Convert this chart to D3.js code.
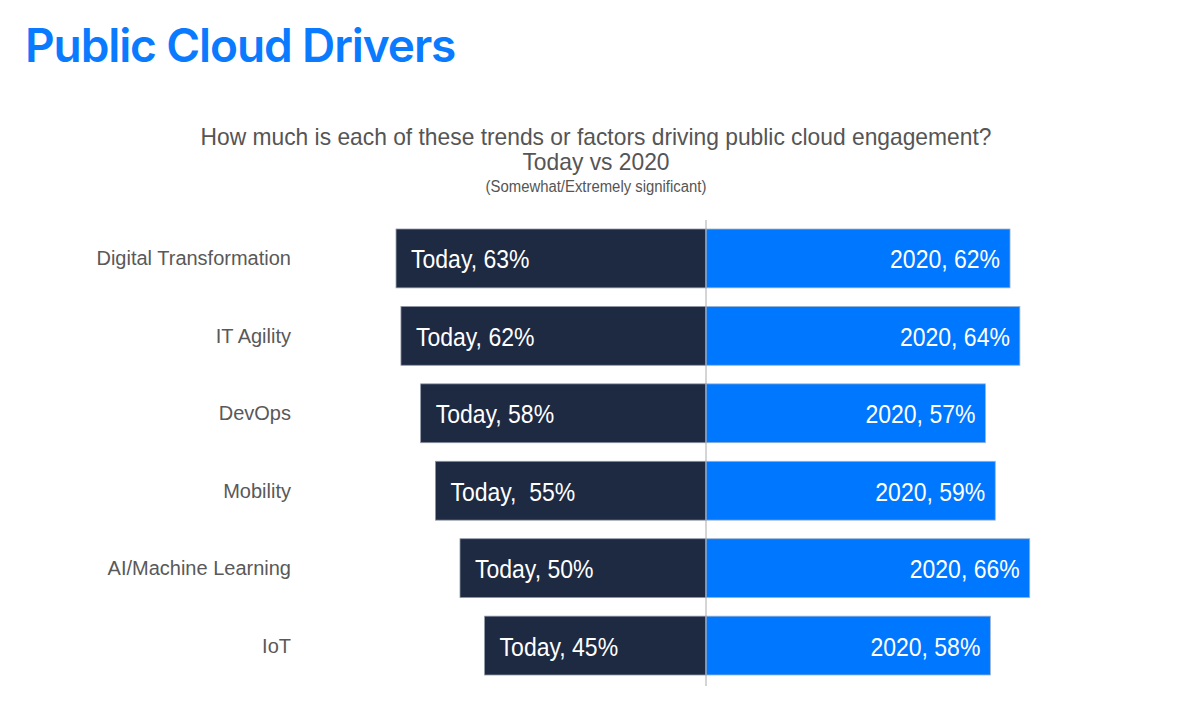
<!DOCTYPE html>
<html>
<head>
<meta charset="utf-8">
<script src="https://cdn.jsdelivr.net/npm/d3@7"></script>
<style>
  html, body { margin: 0; padding: 0; background: #fff; }
  svg { display: block; }
</style>
</head>
<body>
<div id="chart"></div>
<script>
// chart data
const categories = ['Digital Transformation', 'IT Agility', 'DevOps', 'Mobility', 'AI/Machine Learning', 'IoT'];
const todayValues = [63, 62, 58, 55, 50, 45];
const values2020 = [62, 64, 57, 59, 66, 58];
const todayLabels = ['Today, 63%', 'Today, 62%', 'Today, 58%', 'Today,  55%', 'Today, 50%', 'Today, 45%'];
const labels2020 = ['2020, 62%', '2020, 64%', '2020, 57%', '2020, 59%', '2020, 66%', '2020, 58%'];

const width = 1194;
const height = 723;
const centerX = 706;
const sans = '"Liberation Sans", Arial, Helvetica, sans-serif';

const svg = d3.select('#chart')
  .append('svg')
  .attr('width', width)
  .attr('height', height);

// squeeze text horizontally so it looks like a narrow face
function condense(sel, factor) {
  sel.each(function () {
    const w = this.getComputedTextLength();
    d3.select(this)
      .attr('textLength', w * factor)
      .attr('lengthAdjust', 'spacingAndGlyphs');
  });
}

// title
svg.append('text')
  .attr('x', 25)
  .attr('y', 62)
  .attr('font-family', 'Inter, "Noto Sans", sans-serif')
  .attr('font-weight', 600)
  .attr('font-size', 46)
  .attr('letter-spacing', -1.1)
  .attr('fill', '#0a7bff')
  .text('Public Cloud Drivers');

// subtitle lines
const subtitle = svg.append('g')
  .attr('font-family', sans)
  .attr('fill', '#555')
  .attr('text-anchor', 'middle');

subtitle.append('text')
  .attr('x', 596).attr('y', 145)
  .attr('font-size', 24)
  .text('How much is each of these trends or factors driving public cloud engagement?')
  .call(condense, 0.95);
subtitle.append('text')
  .attr('x', 596).attr('y', 170)
  .attr('font-size', 24)
  .text('Today vs 2020')
  .call(condense, 0.95);
subtitle.append('text')
  .attr('x', 596).attr('y', 192)
  .attr('font-size', 16)
  .text('(Somewhat/Extremely significant)')
  .call(condense, 0.93);

// scales
const y = d3.scaleBand()
  .domain(categories)
  .range([229, 675])
  .paddingInner(0.24)
  .paddingOuter(0);

const x = d3.scaleLinear()
  .domain([0, 100])
  .range([0, 492]);

// left bars (Today)
svg.append('g')
  .selectAll('rect')
  .data(categories)
  .join('rect')
  .attr('x', (d, i) => centerX - x(todayValues[i]))
  .attr('y', d => y(d))
  .attr('width', (d, i) => x(todayValues[i]))
  .attr('height', y.bandwidth())
  .attr('fill', '#1e2942')
  .attr('stroke', '#8f98a6')
  .attr('stroke-width', 0.8);

// right bars (2020)
svg.append('g')
  .selectAll('rect')
  .data(categories)
  .join('rect')
  .attr('x', centerX)
  .attr('y', d => y(d))
  .attr('width', (d, i) => x(values2020[i]) - 1)
  .attr('height', y.bandwidth())
  .attr('fill', '#0077ff')
  .attr('stroke', '#9fb3cc')
  .attr('stroke-width', 0.8);

// centre line
svg.append('line')
  .attr('x1', centerX).attr('x2', centerX)
  .attr('y1', 220).attr('y2', 686)
  .attr('stroke', '#aaa')
  .attr('stroke-width', 1);

// value labels
svg.append('g')
  .selectAll('text')
  .data(categories)
  .join('text')
  .attr('x', (d, i) => centerX - x(todayValues[i]) + 15)
  .attr('y', d => y(d) + y.bandwidth() / 2 + 10)
  .attr('font-family', sans)
  .attr('font-size', 25)
  .attr('fill', '#fff')
  .attr('xml:space', 'preserve')
  .text((d, i) => todayLabels[i])
  .call(condense, 0.92);

svg.append('g')
  .selectAll('text')
  .data(categories)
  .join('text')
  .attr('x', (d, i) => centerX + x(values2020[i]) - 11)
  .attr('y', d => y(d) + y.bandwidth() / 2 + 10)
  .attr('text-anchor', 'end')
  .attr('font-family', sans)
  .attr('font-size', 25)
  .attr('fill', '#fff')
  .text((d, i) => labels2020[i])
  .call(condense, 0.92);

// category labels
svg.append('g')
  .selectAll('text')
  .data(categories)
  .join('text')
  .attr('x', 291)
  .attr('y', d => y(d) + y.bandwidth() / 2 + 7)
  .attr('text-anchor', 'end')
  .attr('font-family', sans)
  .attr('font-size', 20)
  .attr('fill', '#595959')
  .text(d => d);
</script>
</body>
</html>
